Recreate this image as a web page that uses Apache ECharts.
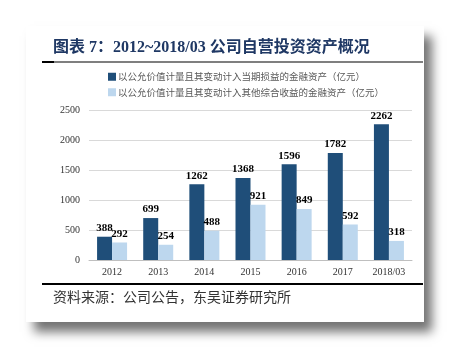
<!DOCTYPE html>
<html><head><meta charset="utf-8">
<script src="https://cdn.jsdelivr.net/npm/echarts@6/dist/echarts.min.js"></script>
<style>html,body{margin:0;padding:0;background:#fff;}#c{width:451px;height:349px;}</style>
</head><body><div id="c"></div>
<script>
const categories = ['2012','2013','2014','2015','2016','2017','2018/03'];
const seriesNames = ['以公允价值计量且其变动计入当期损益的金融资产（亿元）','以公允价值计量且其变动计入其他综合收益的金融资产（亿元）'];
const tradingAssets = [388, 699, 1262, 1368, 1596, 1782, 2262];
const ociAssets = [292, 254, 488, 921, 849, 592, 318];
const yTicks = [0, 500, 1000, 1500, 2000, 2500];
const titleText = '图表 7：2012~2018/03 公司自营投资资产概况';
const sourceText = '资料来源：公司公告，东吴证券研究所';

const serif = '"Liberation Serif","DejaVu Serif","Noto Sans CJK SC",serif';
const chart = echarts.init(document.getElementById('c'));
const labelStyle = {show:true, position:'top', distance:3, color:'#000', fontWeight:'bold', fontFamily:serif, fontSize:11};
chart.setOption({
  animation:false,
  backgroundColor:'#fff',
  graphic:[
    {type:'rect', z:-10, shape:{x:26,y:26,width:398,height:296}, style:{fill:'#fff', shadowBlur:10, shadowOffsetX:8, shadowOffsetY:10, shadowColor:'rgba(0,0,0,0.55)'}},
    {type:'text', z:5, left:53, top:40, style:{text:titleText, fill:'#1f3864', font:'bold 16px "Liberation Serif","Noto Sans CJK SC",serif'}},
    {type:'rect', z:5, shape:{x:42,y:61.5,width:381,height:1}, style:{fill:'#000'}},
    {type:'rect', z:5, shape:{x:42,y:61,width:12,height:2}, style:{fill:'#000'}},
    {type:'rect', z:5, shape:{x:42,y:283,width:381,height:2}, style:{fill:'#000'}},
    {type:'text', z:5, left:53, top:290, style:{text:sourceText, fill:'#333', font:'14px "Noto Sans CJK SC",serif'}}
  ],
  legend:{
    orient:'vertical', left:103, top:67, itemWidth:8, itemHeight:8, itemGap:6,
    icon:'rect',
    textStyle:{color:'#595959', fontSize:9.5, fontFamily:'"Noto Sans CJK SC",sans-serif', padding:[0,0,0,-3]},
    data:seriesNames
  },
  grid:{left:89, right:39, top:110, bottom:89, containLabel:false},
  xAxis:{
    type:'category', data:categories,
    axisLine:{lineStyle:{color:'#bfbfbf'}}, axisTick:{show:false},
    axisLabel:{color:'#333', fontFamily:serif, fontSize:10, margin:7}
  },
  yAxis:{
    type:'value', min:0, max:2500, interval:500,
    axisLine:{show:false}, axisTick:{show:false},
    splitLine:{lineStyle:{color:'#d9d9d9'}},
    axisLabel:{color:'#333', fontFamily:serif, fontSize:10, margin:9,
      formatter:v=> yTicks.includes(v) ? String(v) : ''}
  },
  series:[
    {name:seriesNames[0], type:'bar', data:tradingAssets, barWidth:15, barGap:'0%', itemStyle:{color:'#1f4e79'}, label:labelStyle},
    {name:seriesNames[1], type:'bar', data:ociAssets, barWidth:15, barGap:'0%', itemStyle:{color:'#bdd7ee'}, label:labelStyle}
  ]
});
</script></body></html>
